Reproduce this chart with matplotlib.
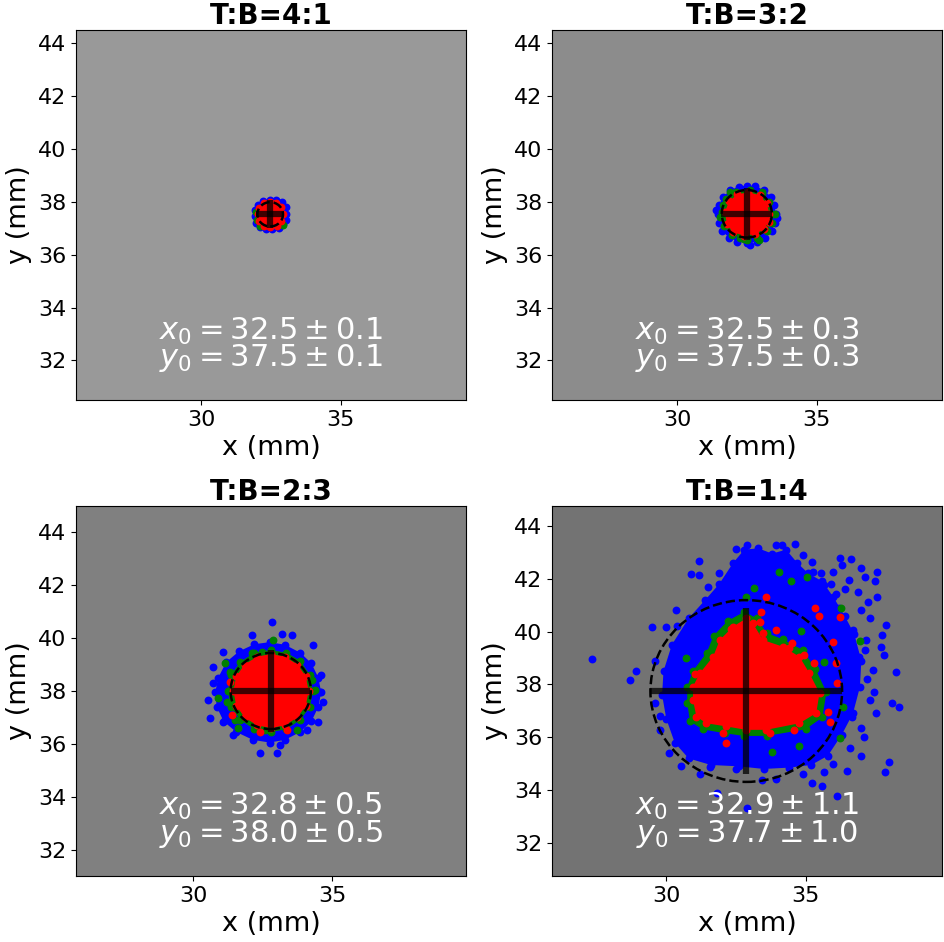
import numpy as np
import matplotlib
matplotlib.use("Agg")
import matplotlib.pyplot as plt
from matplotlib.patches import Circle

# panel settings
titles = ["T:B=4:1", "T:B=3:2", "T:B=2:3", "T:B=1:4"]
center_x = [32.47, 32.49, 32.79, 32.87]
center_y = [37.53, 37.55, 38.0, 37.75]
lim_x = [32.5, 32.5, 32.8, 32.9]
lim_y = [37.5, 37.5, 38.0, 37.75]
err_x = [0.5, 0.91, 1.42, 3.44]
err_y = [0.53, 0.98, 1.57, 3.15]
circle_r = [0.46, 0.9, 1.44, 3.44]
x0_text = ["$x_0 = 32.5 \\pm 0.1$", "$x_0 = 32.5 \\pm 0.3$",
           "$x_0 = 32.8 \\pm 0.5$", "$x_0 = 32.9 \\pm 1.1$"]
y0_text = ["$y_0 = 37.5 \\pm 0.1$", "$y_0 = 37.5 \\pm 0.3$",
           "$y_0 = 38.0 \\pm 0.5$", "$y_0 = 37.7 \\pm 1.0$"]
face_gray = ["0.6", "0.55", "0.5", "0.45"]

# panel 1 clouds (mm)
p1_blue = [(33.04, 37.55), (33.02, 37.8), (32.9, 38.0), (32.68, 38.07), (32.45, 38.08),
           (32.22, 38.02), (32.04, 37.9), (31.93, 37.7), (31.91, 37.45), (31.96, 37.2),
           (32.1, 37.04), (32.33, 36.98), (32.55, 36.97), (32.77, 37.02), (32.93, 37.15),
           (33.02, 37.33)]
p1_green = [(31.99, 37.3), (31.97, 37.6), (32.1, 37.08), (32.92, 37.12)]
p1_red = [(32.92, 37.53), (32.85, 37.8), (32.68, 37.97), (32.48, 38.0), (32.25, 37.95),
          (32.08, 37.78), (32.03, 37.53), (32.08, 37.27), (32.25, 37.1), (32.48, 37.06),
          (32.7, 37.1), (32.86, 37.28)]
p1_blue_out = []
p1_green_out = []
p1_red_out = []

# panel 2 clouds (mm)
p2_blue = [(33.52, 37.55), (33.48, 37.9), (33.35, 38.2), (33.1, 38.45), (32.8, 38.6),
           (32.5, 38.62), (32.2, 38.58), (31.9, 38.45), (31.65, 38.2), (31.5, 37.9),
           (31.45, 37.55), (31.48, 37.2), (31.6, 36.9), (31.85, 36.65), (32.15, 36.5),
           (32.5, 36.45), (32.85, 36.5), (33.15, 36.65), (33.38, 36.9), (33.5, 37.2)]
p2_green = [(33.4, 37.55), (33.3, 38.0), (33.05, 38.3), (32.6, 38.45), (32.1, 38.38),
            (31.75, 38.1), (31.6, 37.6), (31.68, 37.1), (31.95, 36.75), (32.4, 36.6),
            (32.85, 36.65), (33.2, 36.9), (33.38, 37.2)]
p2_red = [(33.3, 37.55), (33.2, 37.95), (32.95, 38.25), (32.55, 38.37), (32.15, 38.28),
          (31.85, 38.02), (31.7, 37.6), (31.78, 37.15), (32.0, 36.85), (32.4, 36.72),
          (32.8, 36.78), (33.1, 36.98), (33.28, 37.25)]
p2_blue_out = [(32.6, 36.35), (31.4, 37.7), (33.58, 37.4)]
p2_green_out = [(31.89, 38.38), (33.03, 38.38), (33.5, 37.56), (32.49, 36.55),
                (32.91, 36.55), (31.53, 37.44), (31.65, 37.88), (32.25, 36.62)]
p2_red_out = []

# panel 3 clouds (mm)
p3_blue = [(34.6, 37.95), (34.5, 38.5), (34.25, 39.05), (33.85, 39.45), (33.3, 39.75),
           (32.75, 39.85), (32.2, 39.77), (31.65, 39.5), (31.2, 39.1), (30.9, 38.5),
           (30.8, 37.95), (30.85, 37.4), (31.1, 36.85), (31.55, 36.45), (32.15, 36.15),
           (32.75, 36.05), (33.3, 36.15), (33.85, 36.45), (34.25, 36.85), (34.5, 37.4)]
p3_green = [(34.3, 38.0), (34.2, 38.6), (33.85, 39.15), (33.35, 39.45), (32.8, 39.55),
            (32.2, 39.45), (31.7, 39.1), (31.35, 38.6), (31.25, 38.0), (31.35, 37.4),
            (31.7, 36.9), (32.2, 36.55), (32.8, 36.45), (33.35, 36.55), (33.85, 36.9),
            (34.2, 37.4)]
p3_red = [(34.15, 38.0), (34.05, 38.55), (33.75, 39.0), (33.3, 39.3), (32.8, 39.4),
          (32.3, 39.3), (31.85, 39.0), (31.55, 38.55), (31.45, 38.0), (31.55, 37.45),
          (31.85, 37.0), (32.3, 36.7), (32.8, 36.6), (33.3, 36.7), (33.75, 37.0),
          (34.05, 37.45)]
p3_blue_out = [(32.82, 40.62), (32.11, 40.12), (33.18, 40.16), (33.54, 40.12), (34.32, 39.74),
               (31.09, 39.49), (30.73, 38.92), (30.55, 37.66), (30.61, 36.97), (31.09, 36.84),
               (34.56, 37.97), (34.68, 37.6), (34.5, 36.84), (32.4, 35.64), (33.0, 35.67),
               (33.12, 35.96), (31.45, 36.34), (34.08, 36.52), (30.7, 38.3), (34.6, 38.6)]
p3_green_out = [(31.15, 39.05), (31.33, 38.73), (31.21, 37.6), (30.91, 37.72), (31.51, 36.9),
                (31.63, 36.59), (32.88, 39.93), (32.46, 39.49), (34.26, 38.42), (34.38, 38.04),
                (33.72, 36.53), (32.58, 36.53), (32.11, 39.43)]
p3_red_out = [(31.33, 38.35), (31.39, 37.09), (33.36, 36.53), (32.4, 36.46)]

# panel 4 clouds (mm)
p4_blue = [(32.4, 42.6), (32.8, 43.1), (33.3, 43.15), (33.8, 42.95), (34.3, 43.1),
           (34.7, 42.6), (35.1, 42.2), (35.6, 41.9), (36.0, 41.3), (36.4, 40.6),
           (36.75, 39.9), (37.0, 38.9), (36.95, 37.9), (36.7, 36.9), (36.3, 36.1),
           (35.8, 35.3), (35.2, 34.95), (34.4, 34.85), (33.5, 34.8), (32.6, 34.9),
           (31.6, 34.95), (30.8, 35.2), (30.3, 35.8), (30.0, 36.7), (29.85, 37.6),
           (29.9, 38.5), (30.2, 39.5), (30.8, 40.5), (31.4, 41.2), (31.9, 41.8)]
p4_green = [(30.75, 37.9), (30.95, 38.5), (31.45, 39.2), (31.7, 39.85), (32.2, 40.4),
            (32.8, 40.75), (33.25, 40.5), (33.6, 39.95), (34.2, 39.7), (34.9, 39.3),
            (35.35, 38.6), (35.75, 37.7), (35.6, 36.75), (35.0, 36.3), (33.6, 36.05),
            (32.8, 36.05), (32.1, 36.15), (31.3, 36.3), (30.85, 36.6), (30.75, 37.3)]
p4_red = [(30.96, 37.92), (31.2, 38.42), (31.68, 39.05), (31.92, 39.68), (32.39, 40.18),
          (32.87, 40.5), (33.11, 40.31), (33.47, 39.68), (34.18, 39.43), (34.78, 39.05),
          (35.14, 38.42), (35.5, 37.67), (35.38, 36.91), (34.78, 36.53), (33.59, 36.28),
          (32.87, 36.28), (32.15, 36.41), (31.44, 36.53), (31.08, 36.78), (30.96, 37.41)]
p4_blue_out = [(27.35, 38.95), (28.69, 38.17), (28.91, 38.51), (29.47, 40.18), (29.98, 40.16),
               (30.36, 40.81), (30.9, 42.17), (31.16, 42.14), (31.18, 42.67), (32.51, 43.11),
               (32.89, 43.27), (33.92, 43.27), (34.16, 43.27), (34.61, 43.33), (34.9, 42.89),
               (35.23, 42.63), (36.22, 42.77), (36.64, 42.73), (37.57, 42.27), (37.14, 42.07),
               (36.87, 41.51), (37.58, 41.32), (37.23, 41.13), (37.7, 39.43), (37.82, 39.11),
               (37.88, 40.25), (37.76, 39.87), (38.24, 38.46), (38.34, 37.14), (38.1, 37.29),
               (37.98, 35.06), (37.86, 34.68), (36.5, 34.72), (35.65, 34.69), (35.59, 34.16),
               (35.22, 34.27), (36.12, 33.76), (33.92, 34.42), (33.42, 34.39), (32.49, 34.79),
               (31.82, 33.89), (32.89, 33.32), (31.56, 34.89), (30.54, 34.93), (29.77, 36.28),
               (29.77, 36.81), (37.17, 39.68), (37.41, 38.55), (37.46, 37.73), (37.52, 36.91),
               (36.99, 36.34), (37.11, 36.0), (36.65, 36.78), (36.81, 37.92), (36.93, 39.05),
               (36.69, 40.06), (36.09, 41.44), (36.57, 41.95), (35.97, 42.26), (35.56, 42.2),
               (35.67, 41.76), (35.26, 42.26), (36.2, 40.9), (36.4, 41.6), (37.0, 40.8),
               (37.3, 40.5), (37.5, 41.9), (37.0, 42.4), (36.3, 42.5), (35.9, 41.8),
               (37.2, 38.2), (37.3, 37.4), (37.15, 39.3), (36.6, 35.6), (37.0, 35.3),
               (31.9, 42.2), (31.5, 41.7), (30.4, 40.2), (29.6, 38.9), (29.6, 37.3),
               (30.1, 35.4), (31.2, 34.6), (34.9, 34.6), (36.0, 35.0)]
p4_green_out = [(34.04, 42.25), (34.46, 41.93), (35.05, 42.05), (33.14, 41.65), (32.85, 41.32),
                (36.26, 40.88), (36.25, 35.98), (36.96, 39.63), (34.76, 35.65), (33.79, 35.44),
                (34.84, 40.02), (30.69, 38.99), (36.33, 37.16), (35.67, 38.86)]
p4_red_out = [(33.59, 41.32), (33.41, 40.75), (33.35, 40.37), (33.94, 40.06), (33.47, 39.96),
              (34.42, 39.37), (34.52, 39.55), (34.93, 39.11), (35.29, 38.8), (35.35, 40.9),
              (35.47, 40.59), (35.97, 39.62), (36.25, 40.54), (36.09, 38.8), (36.13, 38.07),
              (35.79, 36.97), (35.89, 36.57), (32.15, 35.78), (32.04, 36.15), (31.04, 38.38),
              (34.58, 36.28), (33.71, 36.15), (32.31, 40.08)]

clouds = [
    (p1_blue, p1_blue_out, p1_green, p1_green_out, p1_red, p1_red_out),
    (p2_blue, p2_blue_out, p2_green, p2_green_out, p2_red, p2_red_out),
    (p3_blue, p3_blue_out, p3_green, p3_green_out, p3_red, p3_red_out),
    (p4_blue, p4_blue_out, p4_green, p4_green_out, p4_red, p4_red_out),
]

fig, axes = plt.subplots(2, 2, figsize=(9.44, 9.42), dpi=100)
fig.subplots_adjust(left=0.0805, right=0.998, bottom=0.0701, top=0.968,
                    wspace=0.2205, hspace=0.2865)

ms = 32
for i, ax in enumerate(axes.flat):
    ax.set_facecolor(face_gray[i])
    blue, blue_out, green, green_out, red, red_out = clouds[i]

    # blue, then green, then red on top
    for edge, extra, col, z in [(blue, blue_out, "blue", 1),
                                (green, green_out, "green", 2),
                                (red, red_out, "red", 3)]:
        if len(edge) > 4:
            e = np.array(edge)
            ax.fill(e[:, 0], e[:, 1], color=col, lw=0, zorder=z)
            ax.scatter(e[:, 0], e[:, 1], s=ms, color=col, lw=0, zorder=z)
        elif len(edge) > 0:
            e = np.array(edge)
            ax.scatter(e[:, 0], e[:, 1], s=ms, color=col, lw=0, zorder=z)
        if len(extra) > 0:
            o = np.array(extra)
            ax.scatter(o[:, 0], o[:, 1], s=ms, color=col, lw=0, zorder=z)

    ax.add_patch(Circle((center_x[i], center_y[i]), circle_r[i], fill=False,
                        ls="--", lw=1.8, color="black", zorder=5))
    ax.errorbar(center_x[i], center_y[i], xerr=err_x[i], yerr=err_y[i],
                fmt="none", ecolor="black", elinewidth=4.5, alpha=0.75, zorder=6)

    ax.text(0.5, 0.15, x0_text[i] + "\n" + y0_text[i], transform=ax.transAxes,
            ha="center", va="center", multialignment="center", linespacing=0.8,
            color="white", fontsize=22, zorder=7)

    ax.set_xlim(lim_x[i] - 7, lim_x[i] + 7)
    ax.set_ylim(lim_y[i] - 7, lim_y[i] + 7)
    ax.set_xticks([30, 35])
    ax.set_yticks([32, 34, 36, 38, 40, 42, 44])
    ax.tick_params(labelsize=16)
    ax.set_xlabel("x (mm)", fontsize=19.5)
    ax.set_ylabel("y (mm)", fontsize=19.5)
    ax.set_title(titles[i], fontsize=20, fontweight="bold", pad=4)

fig.savefig("out.png", dpi=100)
